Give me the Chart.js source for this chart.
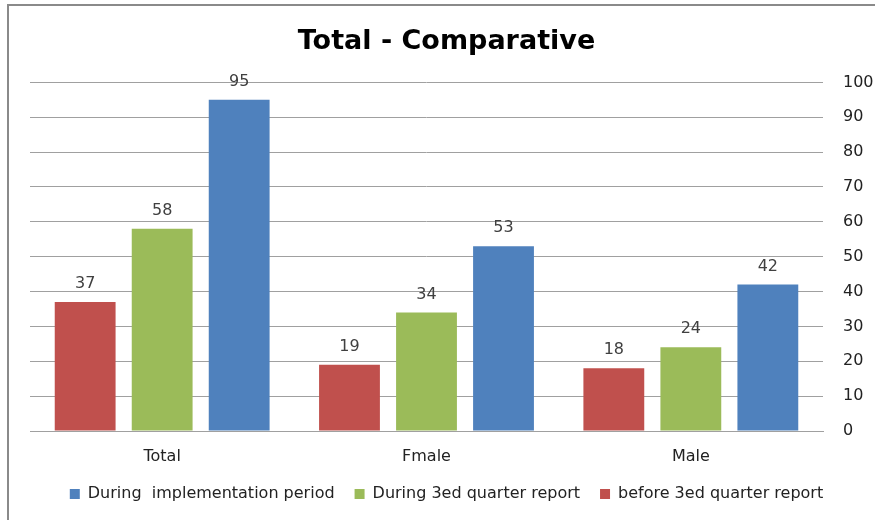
<!DOCTYPE html>
<html>
<head>
<meta charset="utf-8">
<script src="https://cdn.jsdelivr.net/npm/chart.js@4.4.1/dist/chart.umd.min.js"></script>
<style>
  html, body { margin: 0; padding: 0; background: #fff; }
  #wrap { position: relative; width: 875px; height: 520px; }
  #frame { position: absolute; left: 7px; top: 4px; right: 0; bottom: 0; border-left: 2px solid #8a8a8a; border-top: 2px solid #8a8a8a; pointer-events: none; }
  canvas { position: absolute; left: 0; top: 0; }
</style>
</head>
<body>
<div id="wrap">
  <canvas id="c" width="875" height="520"></canvas>
  <div id="frame"></div>
</div>
<script>
const titleText = "Total - Comparative";
const categories = ["Total", "Fmale", "Male"];
const seriesNames = ["before 3ed quarter report", "During 3ed quarter report", "During  implementation period"];
const beforeValues = [37, 19, 18];
const during3edValues = [58, 34, 24];
const implementationValues = [95, 53, 42];
const seriesColors = ["#C0504D", "#9BBB59", "#4F81BD"];
const yTicks = [0, 10, 20, 30, 40, 50, 60, 70, 80, 90, 100];

const FONT = "'DejaVu Sans', sans-serif";
const TITLE_FONT = "'DejaVu Sans', sans-serif";

const valueLabels = {
  id: 'valueLabels',
  afterDatasetsDraw(chart) {
    const ctx = chart.ctx;
    ctx.save();
    ctx.font = "16px " + FONT;
    ctx.fillStyle = "#404040";
    ctx.textAlign = "center";
    ctx.textBaseline = "middle";
    chart.data.datasets.forEach((ds, i) => {
      chart.getDatasetMeta(i).data.forEach((bar, j) => {
        ctx.fillText(String(ds.data[j]), bar.x, bar.y - 18);
      });
    });
    ctx.restore();
  }
};

new Chart(document.getElementById('c'), {
  type: 'bar',
  data: {
    labels: categories,
    datasets: [
      { label: seriesNames[0], data: beforeValues, backgroundColor: seriesColors[0] },
      { label: seriesNames[1], data: during3edValues, backgroundColor: seriesColors[1] },
      { label: seriesNames[2], data: implementationValues, backgroundColor: seriesColors[2] }
    ]
  },
  options: {
    responsive: false,
    animation: false,
    devicePixelRatio: 1,
    layout: { padding: { left: 18, right: 0, top: 0, bottom: 8 } },
    datasets: { bar: { categoryPercentage: 0.874, barPercentage: 0.79 } },
    plugins: {
      title: {
        display: true,
        text: titleText,
        color: "#000",
        font: { family: TITLE_FONT, size: 27, weight: 'bold' },
        padding: { top: 26, bottom: 24 }
      },
      legend: {
        position: 'bottom',
        reverse: true,
        labels: {
          color: "#222",
          font: { family: FONT, size: 16 },
          boxWidth: 10,
          boxHeight: 10,
          padding: 20
        }
      },
      tooltip: { enabled: false }
    },
    scales: {
      x: {
        grid: { display: false, drawTicks: false },
        border: { display: true, color: "#A0A0A0", width: 1 },
        afterFit: (s) => { s.height = 35; },
        ticks: { color: "#222", font: { family: FONT, size: 16 }, padding: 16 }
      },
      y: {
        position: 'right',
        min: 0, max: 100,
        afterBuildTicks: (s) => { s.ticks = yTicks.map(v => ({ value: v })); },
        afterFit: (s) => { s.width = 52; },
        grid: { color: "#A0A0A0", drawTicks: false },
        border: { display: false },
        ticks: { color: "#222", font: { family: FONT, size: 16 }, padding: 20 }
      },
      leftGap: {
        type: 'linear',
        position: 'left',
        display: true,
        afterFit: (s) => { s.width = 12; },
        grid: { display: false, drawTicks: false },
        border: { display: false },
        ticks: { display: false }
      }
    }
  },
  plugins: [valueLabels]
});
</script>
</body>
</html>
